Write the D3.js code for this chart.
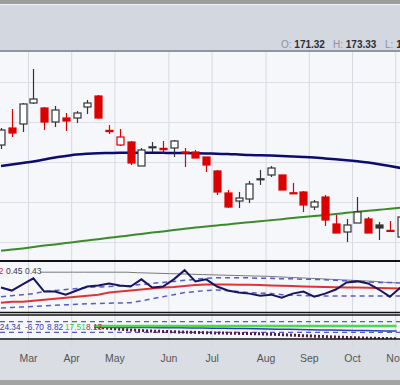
<!DOCTYPE html>
<html>
<head>
<meta charset="utf-8">
<script src="https://cdn.jsdelivr.net/npm/d3@7"></script>
<style>
  body { margin:0; padding:0; background:#fff; }
  svg { display:block; font-family:"Liberation Sans", Arial, sans-serif; }
</style>
</head>
<body>
<script>
//weekly candles, one entry per week (index 0..37)
var opens  = [194.25,198.5,199.5,204.75,203.5,200,201,201,203.75,206.5,197.9,194.25,195,189,193.6,193.4,193.5,192.5,192.5,191.25,187.75,182.25,180.25,180.75,185.6,186.75,186.75,182.3,182.5,178.75,181.25,174.5,172.5,174.75,175.75,174.25,172.9,171.25];
var highs  = [198.5,203.25,204.75,213.25,203.75,204,202.25,202.75,205.5,206.75,199.25,198.25,195.25,193.5,195,195.25,195.5,193.5,193,191.25,188,183,182.5,185.25,188,189,186.75,184.75,182.75,180.5,181.75,176.75,175.75,181.25,176.25,175,175.25,176.5];
var lows   = [193.25,196.25,197.5,204.5,198,198.75,197.75,199.75,202,200.75,197,194,189.25,189,192.5,192.25,191.25,188.75,191,187.5,181.75,178.5,178.5,179.75,184.25,186.25,183,182.2,177.5,178,174,172.25,170,174.75,172.25,170.5,172.5,171];
var closes = [198,197.25,204.5,205.75,200,203,200.25,202.25,204.75,201,197.6,196.25,189.75,193,193.8,193.1,195.25,192.3,191,189.25,182.5,178.75,181,184.5,185.8,188.5,183,182.2,179.25,180,175.5,172.25,174.25,177.5,172.25,173.5,172.75,176.25];

//moving averages on the price chart
var maShort = [189.0,189.38,189.75,190.13,190.63,191.13,191.5,191.88,192.08,192.2,192.25,192.3,192.33,192.33,192.33,192.3,192.25,192.25,192.2,192.13,192.05,192.0,191.88,191.75,191.68,191.6,191.5,191.38,191.25,191.1,190.9,190.68,190.45,190.18,189.85,189.45,189.0,188.5];
var maLong  = [167.8,168.1,168.4,168.75,169.1,169.4,169.75,170.05,170.4,170.7,171.05,171.35,171.7,172.0,172.35,172.65,173.0,173.3,173.6,173.9,174.15,174.4,174.7,174.95,175.2,175.45,175.7,176.0,176.25,176.5,176.75,177.0,177.3,177.55,177.8,178.05,178.3,178.55];

//first indicator panel
var ind1Line  = [0.45,0.42,0.48,0.54,0.41,0.41,0.38,0.42,0.46,0.47,0.49,0.47,0.46,0.53,0.45,0.46,0.53,0.62,0.51,0.53,0.46,0.42,0.40,0.39,0.37,0.38,0.35,0.39,0.41,0.36,0.39,0.43,0.50,0.51,0.49,0.43,0.36,0.45];
var ind1Avg   = [0.30,0.31,0.31,0.32,0.33,0.34,0.35,0.36,0.37,0.38,0.40,0.41,0.42,0.43,0.44,0.45,0.455,0.465,0.475,0.48,0.48,0.48,0.478,0.476,0.474,0.47,0.467,0.464,0.461,0.458,0.455,0.453,0.451,0.449,0.447,0.445,0.443,0.44];
var ind1Upper = [0.36,0.37,0.38,0.39,0.41,0.42,0.43,0.44,0.45,0.455,0.46,0.465,0.47,0.48,0.49,0.50,0.51,0.52,0.53,0.54,0.545,0.545,0.545,0.545,0.54,0.54,0.535,0.535,0.53,0.53,0.525,0.52,0.515,0.51,0.505,0.50,0.50,0.495];
var ind1Lower = [0.25,0.255,0.26,0.265,0.27,0.275,0.28,0.285,0.29,0.293,0.296,0.298,0.30,0.32,0.34,0.36,0.38,0.40,0.41,0.42,0.425,0.42,0.41,0.40,0.395,0.39,0.38,0.375,0.37,0.367,0.367,0.367,0.367,0.367,0.367,0.367,0.367,0.367];
var ind1Ref   = [0.60,0.60,0.60,0.60,0.60,0.60,0.60,0.60,0.60,0.60,0.60,0.60,0.60,0.595,0.592,0.589,0.586,0.583,0.58,0.577,0.574,0.571,0.568,0.565,0.562,0.56,0.555,0.55,0.545,0.54,0.535,0.53,0.525,0.52,0.515,0.51,0.50,0.495];
var ind1Labels = [{t:"0.42", c:"#dd2222"}, {t:"0.45", c:"#333344"}, {t:"0.43", c:"#444444"}];

//second indicator panel (starts at week 9)
var ind2Start = 9;
var ind2Green = [1.8,1.8,1.8,1.8,1.8,1.7,1.7,1.7,1.7,1.7,1.7,1.7,1.7,1.7,1.7,1.6,1.6,1.6,1.6,1.6,1.6,1.6,1.6,1.6,1.6,1.6,1.6,1.6,1.6];
var ind2Blue  = [-0.5,-0.6,-0.7,-0.8,-0.9,-1.0,-1.1,-1.2,-1.4,-1.6,-1.8,-2.0,-2.2,-2.4,-2.7,-3.0,-3.3,-3.6,-3.9,-4.2,-4.5,-4.8,-5.1,-5.4,-5.7,-6.0,-6.2,-6.5,-6.7];
var ind2Dots  = [0,-1.5,-3,-4.5,-5.5,-6.5,-7.2,-7.8,-8.3,-8.8,-9.3,-9.8,-10.2,-10.5,-10.8,-11.2,-11.8,-12.5,-13.3,-14.2,-15,-15.8,-16.5,-17.2,-17.8,-18.4,-18.9,-19.3,-19.6];
var ind2Levels = [9, -9];
var ind2Labels = [{t:"-24.34", c:"#3a3a9a"}, {t:"-6.70", c:"#3a3aaa"}, {t:"8.82", c:"#3a3aaa"}, {t:"17.51", c:"#33cc33"}, {t:"8.13", c:"#aa3333"}];

//axis ticks
var monthLabels = ["Mar","Apr","May","Jun","Jul","Aug","Sep","Oct","Nov"];
var monthIndex  = [2.5,6.5,10.5,15.5,19.5,24.5,28.5,32.5,36.5];
var priceTicks  = [170,180,190,200,210];

//header quote
var quote = [{k:"O:", v:"171.32"}, {k:"H:", v:"173.33"}, {k:"L:", v:"170.65"}];

window.onload = drawChart();

function drawChart(){
    var width = 400, height = 385;

    var svg = d3.select("body").append("svg")
        .attr("width", width)
        .attr("height", height);

    //background bands
    svg.append("rect").attr("x",0).attr("y",0).attr("width",width).attr("height",height).attr("fill","#f5f7fa");
    svg.append("rect").attr("x",0).attr("y",0).attr("width",width).attr("height",51).attr("fill","#d3d8e0");
    svg.append("rect").attr("x",0).attr("y",0).attr("width",width).attr("height",4).attr("fill","#9d9d9d");
    svg.append("rect").attr("x",0).attr("y",4).attr("width",width).attr("height",1).attr("fill","#f0f2f5");
    svg.append("rect").attr("x",0).attr("y",50).attr("width",width).attr("height",2).attr("fill","#90959e");
    svg.append("rect").attr("x",0).attr("y",340).attr("width",width).attr("height",40).attr("fill","#dadee4");
    svg.append("rect").attr("x",0).attr("y",380).attr("width",width).attr("height",5).attr("fill","#a3a3a3");

    //scales
    var x = d3.scaleLinear().domain([0, 37]).range([1, 1 + 37 * 10.8]);
    var y = d3.scaleLinear().domain([165, 217.5]).range([262, 52]);
    var y1 = d3.scaleLinear().domain([0.2, 0.7]).range([313, 262]);
    var y2 = d3.scaleLinear().domain([-20, 20]).range([339, 315]);

    //vertical grid at month starts
    svg.append("g")
        .attr("class", "vgrid")
        .attr("transform", "translate(0,348)")
        .call(d3.axisBottom(x).tickValues(monthIndex).tickSize(-296).tickFormat(""))
        .call(function(g){
            g.select(".domain").remove();
            g.selectAll("line").attr("stroke", "#d6d9df");
        });

    //horizontal grid in price chart
    svg.append("g")
        .attr("class", "hgrid")
        .call(d3.axisLeft(y).tickValues(priceTicks).tickSize(-width).tickFormat(""))
        .call(function(g){
            g.select(".domain").remove();
            g.selectAll("line").attr("stroke", "#dcdfe4");
        });

    //clip areas
    var defs = svg.append("defs");
    defs.append("clipPath").attr("id","clipMain").append("rect").attr("x",0).attr("y",52).attr("width",width).attr("height",210);
    defs.append("clipPath").attr("id","clipP1").append("rect").attr("x",0).attr("y",262).attr("width",width).attr("height",51);
    defs.append("clipPath").attr("id","clipP2").append("rect").attr("x",0).attr("y",315).attr("width",width).attr("height",24);

    var main = svg.append("g").attr("clip-path", "url(#clipMain)");

    //moving averages
    var line = d3.line().x(function(d, i){ return x(i); }).y(function(d){ return y(d); }).curve(d3.curveMonotoneX);
    main.append("path").datum(maLong).attr("d", line).attr("fill","none").attr("stroke","#3d8a2c").attr("stroke-width",2);
    main.append("path").datum(maShort).attr("d", line).attr("fill","none").attr("stroke","#0b0b70").attr("stroke-width",2.5);

    //candles
    var candles = opens.map(function(o, i){
        return {i:i, o:o, h:highs[i], l:lows[i], c:closes[i], pc: i > 0 ? closes[i-1] : opens[i]};
    });
    var bw = 7;
    var cg = main.selectAll(".candle").data(candles).enter().append("g").attr("class","candle");

    function candleColor(d){ return d.c < d.pc ? "#dd0000" : "#333333"; }

    cg.append("line")
        .attr("x1", function(d){ return Math.round(x(d.i)) + 0.5; })
        .attr("x2", function(d){ return Math.round(x(d.i)) + 0.5; })
        .attr("y1", function(d){ return y(d.h); })
        .attr("y2", function(d){ return y(d.l); })
        .attr("stroke", candleColor)
        .attr("stroke-width", 1.2);

    cg.append("rect")
        .attr("x", function(d){ return Math.round(x(d.i)) - bw / 2 + 0.5; })
        .attr("y", function(d){ return y(Math.max(d.o, d.c)); })
        .attr("width", bw)
        .attr("height", function(d){ return Math.max(1, Math.abs(y(d.o) - y(d.c))); })
        .attr("fill", function(d){ return d.c < d.o ? candleColor(d) : "#ffffff"; })
        .attr("stroke", candleColor)
        .attr("stroke-width", 1.2);

    //panel 1
    var p1 = svg.append("g").attr("clip-path", "url(#clipP1)");
    var line1 = d3.line().x(function(d, i){ return x(i); }).y(function(d){ return y1(d); });
    var refLine = d3.line().defined(function(d, i){ return i >= 4; }).x(function(d, i){ return x(i) - 4; }).y(function(d){ return y1(d); });
    p1.append("path").datum(ind1Ref).attr("d", refLine).attr("fill","none").attr("stroke","#7a7a7a").attr("stroke-width",1);
    p1.append("path").datum(ind1Upper).attr("d", line1).attr("fill","none").attr("stroke","#5a5acc").attr("stroke-width",1.5).attr("stroke-dasharray","5,4");
    p1.append("path").datum(ind1Lower).attr("d", line1).attr("fill","none").attr("stroke","#5a5acc").attr("stroke-width",1.5).attr("stroke-dasharray","5,4");
    p1.append("path").datum(ind1Avg).attr("d", line1).attr("fill","none").attr("stroke","#e03333").attr("stroke-width",2);
    p1.append("path").datum(ind1Line).attr("d", line1).attr("fill","none").attr("stroke","#161660").attr("stroke-width",2);

    var t1 = p1.append("text").attr("y", 274).attr("font-size", "8.5px");
    var t1x = [-13, 6, 25];
    t1.selectAll("tspan").data(ind1Labels).enter().append("tspan")
        .attr("x", function(d, i){ return t1x[i]; })
        .attr("fill", function(d){ return d.c; })
        .text(function(d){ return d.t; });

    //panel 2
    var p2 = svg.append("g").attr("clip-path", "url(#clipP2)");
    var line2 = d3.line().x(function(d, i){ return x(i + ind2Start) - 4; }).y(function(d){ return y2(d); });
    p2.selectAll(".lvl").data(ind2Levels).enter().append("line")
        .attr("x1", 0).attr("x2", width)
        .attr("y1", function(d){ return y2(d); }).attr("y2", function(d){ return y2(d); })
        .attr("stroke","#5a5acc").attr("stroke-width",1.2).attr("stroke-dasharray","5,4");
    p2.append("path").datum(ind2Dots).attr("d", line2).attr("fill","none").attr("stroke","#5a1a3c").attr("stroke-width",3).attr("stroke-dasharray","2,2");
    p2.append("path").datum(ind2Blue).attr("d", line2).attr("fill","none").attr("stroke","#2040c0").attr("stroke-width",1.5);
    p2.append("path").datum(ind2Green).attr("d", line2).attr("fill","none").attr("stroke","#44dd44").attr("stroke-width",2.5);

    var t2 = p2.append("text").attr("y", 330).attr("font-size", "8.3px");
    var t2x = [-3, 25, 47, 65, 86];
    t2.selectAll("tspan").data(ind2Labels).enter().append("tspan")
        .attr("x", function(d, i){ return t2x[i]; })
        .attr("fill", function(d){ return d.c; })
        .text(function(d){ return d.t; });

    //panel borders
    [261, 312.5, 315, 339].forEach(function(yy, i){
        svg.append("line").attr("x1",0).attr("x2",width).attr("y1",yy).attr("y2",yy)
            .attr("stroke","#111").attr("stroke-width", i == 0 ? 2 : 1.3);
    });

    //month axis
    svg.append("g")
        .attr("class", "xaxis")
        .attr("transform", "translate(0,340)")
        .call(d3.axisBottom(x).tickValues(monthIndex).tickSize(0).tickPadding(15)
            .tickFormat(function(d, i){ return monthLabels[i]; }))
        .call(function(g){
            g.select(".domain").remove();
            g.selectAll("text").attr("fill","#555").attr("font-size","10.5px").attr("font-family","Liberation Sans, Arial, sans-serif");
        });

    //header quote
    var qx = [281, 333, 385];
    var q = svg.append("g").attr("class","quote");
    quote.forEach(function(d, i){
        var t = q.append("text").attr("x", qx[i]).attr("y", 48).attr("font-size","10px");
        t.append("tspan").attr("fill","#8d929a").text(d.k + " ");
        t.append("tspan").attr("fill","#2e2e33").attr("font-weight","bold").text(d.v);
    });
};
</script>
</body>
</html>
